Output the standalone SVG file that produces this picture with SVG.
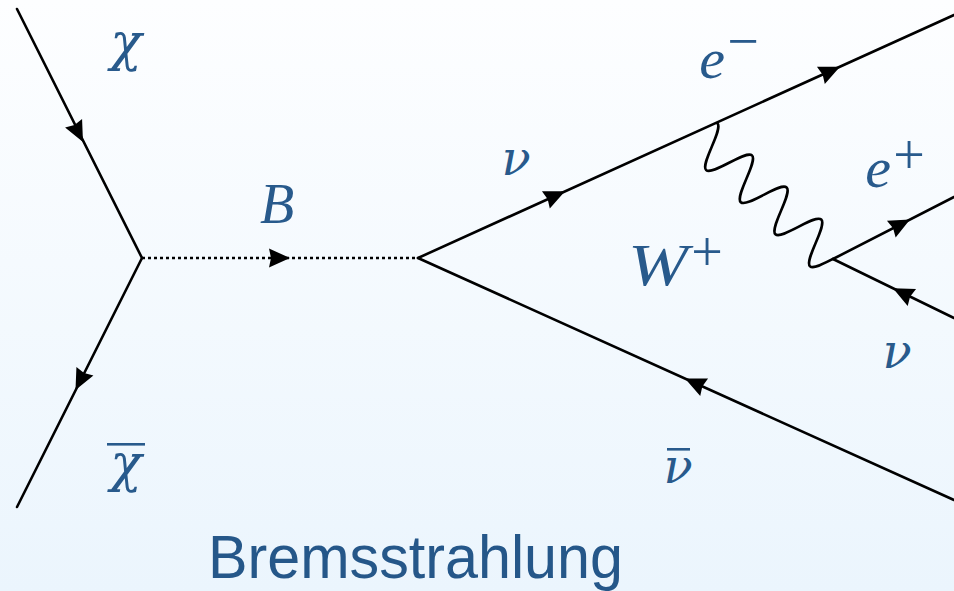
<svg xmlns="http://www.w3.org/2000/svg" xmlns:xlink="http://www.w3.org/1999/xlink" width="954" height="591" viewBox="0 0 954 591">
<defs>
<linearGradient id="bg" x1="0" y1="0" x2="0" y2="1">
<stop offset="0" stop-color="#fdfeff"/>
<stop offset="1" stop-color="#ebf5fd"/>
</linearGradient>
<path id="ah" d="M0,0 L-21,-9.5 L-19,0 L-21,9.5 Z"/>
</defs>
<style>
.ln{stroke:#000;stroke-width:2.6;fill:none;stroke-linecap:round}
.dot{stroke:#000;stroke-width:2.6;fill:none;stroke-dasharray:3 3}
.arr{fill:#000}
.m{font-family:"Liberation Serif","Times New Roman",serif;font-style:italic;fill:#285a8c;text-anchor:middle}
.g{font-family:"DejaVu Serif",serif;font-style:italic;fill:#285a8c;text-anchor:middle}
.up{font-family:"Liberation Serif","Times New Roman",serif;fill:#285a8c;text-anchor:middle}
.bar{fill:#285a8c}
.title{font-family:"Liberation Sans",Arial,sans-serif;fill:#255789}
</style>
<rect width="954" height="591" fill="url(#bg)"/>
<g id="connectors">
<line class="ln" x1="17" y1="9" x2="142" y2="258"/>
<line class="ln" x1="142" y1="258" x2="17" y2="507"/>
<line class="dot" x1="142" y1="258" x2="418" y2="258"/>
<line class="ln" x1="418" y1="258" x2="954" y2="15"/>
<line class="ln" x1="418" y1="258" x2="954" y2="500"/>
<line class="ln" x1="833" y1="259" x2="954" y2="197"/>
<line class="ln" x1="833" y1="259" x2="954" y2="318"/>
<path class="ln" transform="translate(703.1,138.7) rotate(42.8)" d="M0,-21 c4.265,0 7.855,9.97 11.8,21 c3.945,11.03 7.535,21 11.8,21 c4.265,0 7.855,-9.97 11.8,-21 c3.945,-11.03 7.535,-21 11.8,-21 c4.265,0 7.855,9.97 11.8,21 c3.945,11.03 7.535,21 11.8,21 c4.265,0 7.855,-9.97 11.8,-21 c3.945,-11.03 7.535,-21 11.8,-21 c4.265,0 7.855,9.97 11.8,21 c3.945,11.03 7.535,21 11.8,21 c4.265,0 7.855,-9.97 11.8,-21 c3.945,-11.03 7.535,-21 11.8,-21 c4.265,0 7.855,9.97 11.8,21 c3.945,11.03 7.535,21 11.8,21 c4.265,0 7.855,-9.97 11.8,-21"/>
<use class="arr" xlink:href="#ah" transform="translate(83,142) rotate(63.35)"/>
<use class="arr" xlink:href="#ah" transform="translate(75.5,390) rotate(116.65)"/>
<use class="arr" xlink:href="#ah" transform="translate(290,258)"/>
<use class="arr" xlink:href="#ah" transform="translate(565,191.3) rotate(-24.39)"/>
<use class="arr" xlink:href="#ah" transform="translate(840,66.8) rotate(-24.39)"/>
<use class="arr" xlink:href="#ah" transform="translate(685,378.6) rotate(-155.7)"/>
<use class="arr" xlink:href="#ah" transform="translate(910,219.6) rotate(-27.1)"/>
<use class="arr" xlink:href="#ah" transform="translate(893,288.3) rotate(-153.9)"/>
</g>
<g id="label-chi"><text class="g" x="126" y="60" font-size="52">χ</text></g>
<g id="label-chibar"><rect class="bar" x="107" y="443" width="38" height="2.6"/><text class="g" x="126" y="481" font-size="52">χ</text></g>
<g id="label-B"><text class="m" x="277" y="223" font-size="56">B</text></g>
<g id="label-nu-upper"><text class="g" x="516" y="175" font-size="48">ν</text></g>
<g id="label-eminus"><text class="m" x="712" y="78" font-size="58">e</text><text class="up" x="743" y="60" font-size="56">−</text></g>
<g id="label-eplus"><text class="m" x="878" y="187" font-size="58">e</text><text class="up" x="909" y="174" font-size="56">+</text></g>
<g id="label-W"><text class="m" x="658" y="285" font-size="60" textLength="60" lengthAdjust="spacingAndGlyphs">W</text><text class="up" x="707" y="271" font-size="56">+</text></g>
<g id="label-nu-lower"><text class="g" x="897" y="368" font-size="48">ν</text></g>
<g id="label-nubar"><rect class="bar" x="667" y="448" width="23" height="2.6"/><text class="g" x="678" y="483" font-size="48">ν</text></g>
<g id="title"><text class="title" x="208" y="578" font-size="62" textLength="415" lengthAdjust="spacingAndGlyphs">Bremsstrahlung</text></g>
</svg>
